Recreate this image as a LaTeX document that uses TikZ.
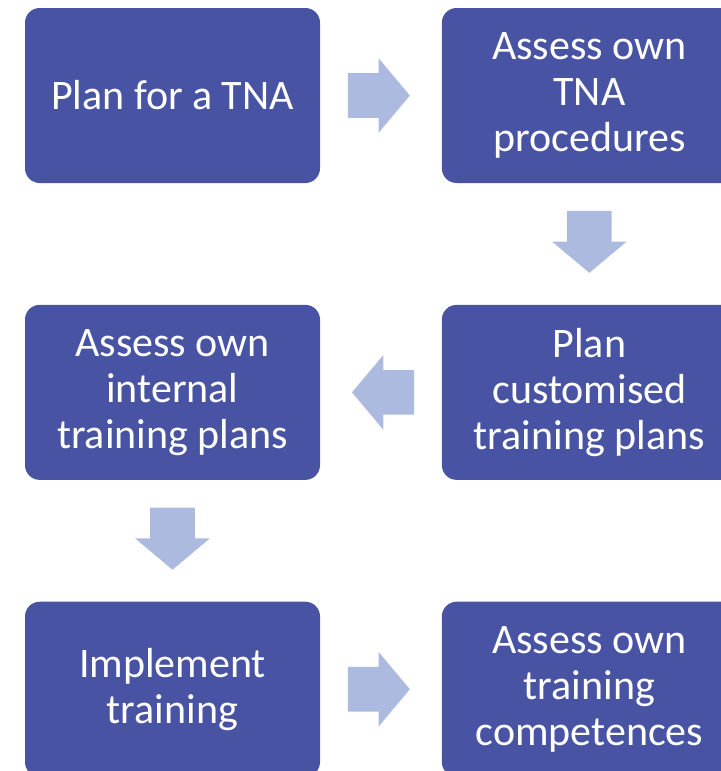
\documentclass[tikz,border=0pt]{standalone}
\usepackage{fontspec}
\setmainfont{Carlito}
\usepackage{xcolor}
\definecolor{STEPCOLOR}{HTML}{4854A3}
\definecolor{FLOWCOLOR}{HTML}{ADBADF}
\usetikzlibrary{shapes.arrows,positioning}
\tikzset{
  step-style/.style = {
    rectangle, rounded corners=11pt,
    fill=STEPCOLOR, text=white,
    minimum width=221.25pt,
    minimum height=131.25pt,
    align=center,
    inner sep=0pt,
    font=\fontsize{31.5}{34.5}\selectfont
  },
  flow-style/.style = {
    single arrow, fill=FLOWCOLOR,
    shape border rotate=#1,
    minimum height=46.5pt,
    single arrow head extend=11.25pt,
    single arrow tip angle=100,
    inner xsep=0pt, inner ysep=16.5pt
  },
  flow-style/.default = 0,
  down-flow-style/.style = {
    flow-style=270,
    inner xsep=16.5pt, inner ysep=0pt
  }
}
\newlength\stepGap
\setlength\stepGap{91pt}
\newlength\flowDistance
\setlength\flowDistance{20.5pt}

\begin{document}
\begin{tikzpicture}
  \useasboundingbox (0,0) rectangle (540.75pt,-578.25pt);

  % the six steps, row by row
  \node[step-style] (tna) at (129.375pt,-71.625pt) {Plan for a TNA};
  \node[step-style, right=\stepGap of tna] (procedures) {Assess own\\TNA\\procedures};
  \node[step-style, below=\stepGap of procedures] (customised) {Plan\\customised\\training plans};
  \node[step-style, below=\stepGap of tna] (internal) {Assess own\\internal\\training plans};
  \node[step-style, below=\stepGap of internal] (implement) {Implement\\training};
  \node[step-style, right=\stepGap of implement] (competences) {Assess own\\training\\competences};

  % block arrows between the steps
  \node[flow-style, right=\flowDistance of tna] (tna-flow) {};
  \node[down-flow-style, below=\flowDistance of procedures] (procedures-flow) {};
  \node[flow-style=180, left=\flowDistance of customised] (customised-flow) {};
  \node[down-flow-style, below=\flowDistance of internal] (internal-flow) {};
  \node[flow-style, right=\flowDistance of implement] (implement-flow) {};
\end{tikzpicture}
\end{document}
